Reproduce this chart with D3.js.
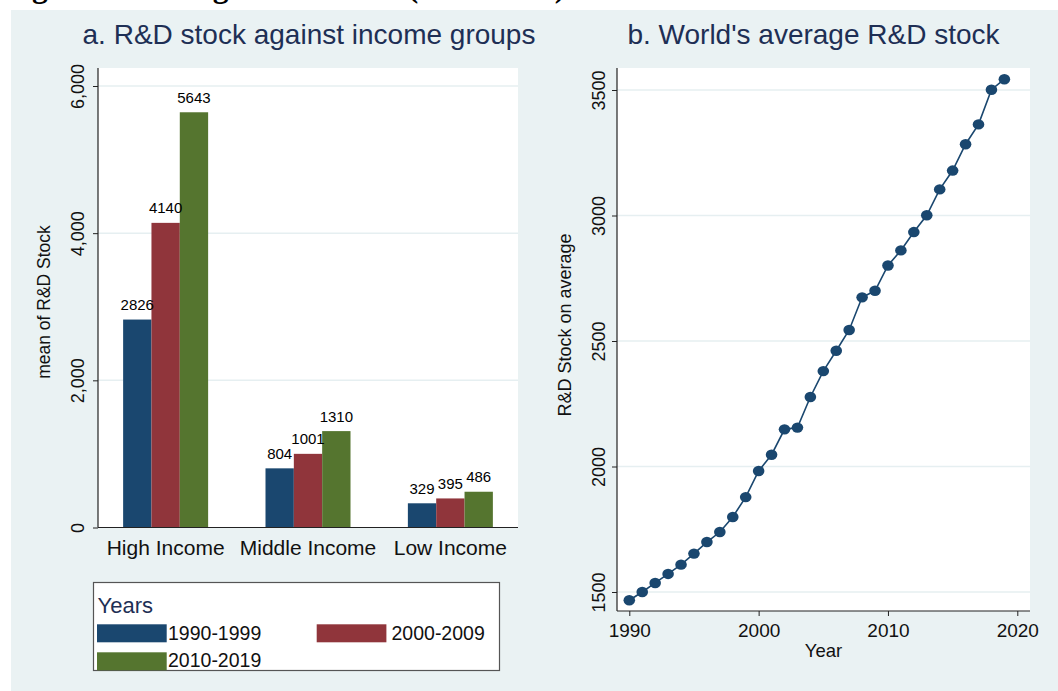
<!DOCTYPE html>
<html>
<head>
<meta charset="utf-8">
<script src="https://cdn.jsdelivr.net/npm/d3@7"></script>
<style>
  html, body { margin: 0; padding: 0; background: #ffffff; }
  svg { display: block; }
  text { font-family: "Liberation Sans", Arial, Helvetica, sans-serif; }
</style>
</head>
<body>
<svg id="chart" width="1058" height="691"></svg>
<script>
// ---- data ----
const incomeGroups = ["High Income", "Middle Income", "Low Income"];
const periods = ["1990-1999", "2000-2009", "2010-2019"];
const stock1990s = [2826, 804, 329];
const stock2000s = [4140, 1001, 395];
const stock2010s = [5643, 1310, 486];
const barTicks = [0, 2000, 4000, 6000];

const years = [1990, 1991, 1992, 1993, 1994, 1995, 1996, 1997, 1998, 1999,
               2000, 2001, 2002, 2003, 2004, 2005, 2006, 2007, 2008, 2009,
               2010, 2011, 2012, 2013, 2014, 2015, 2016, 2017, 2018, 2019];
const worldAvgStock = [1467, 1500, 1536, 1572, 1609, 1653, 1699, 1739, 1799, 1878,
                       1982, 2047, 2148, 2155, 2277, 2380, 2461, 2544, 2674, 2700,
                       2801, 2861, 2934, 3001, 3104, 3179, 3284, 3363, 3501, 3543];
const yearTicks = [1990, 2000, 2010, 2020];
const avgTicks = [1500, 2000, 2500, 3000, 3500];

// ---- styling ----
const periodColors = ["#1a476f", "#90353b", "#55752f"];
const navy = "#1a476f";
const titleColor = "#1e2f55";
const panelBg = "#eaf2f3";
const gridColor = "#e6eff1";
const axisColor = "#222222";

const svg = d3.select("#chart");

// document caption line, clipped by the graph panel below it
svg.append("text")
  .attr("x", 4).attr("y", -3)
  .style("font-family", "'Liberation Serif', 'Times New Roman', serif")
  .style("font-weight", "bold")
  .style("font-size", "31.5px")
  .attr("fill", "#000")
  .text("Figure 1: Average R&D stock (1990-2019)");

// graph panel background
svg.append("rect")
  .attr("x", 11).attr("y", 10)
  .attr("width", 1058 - 11).attr("height", 691 - 10)
  .attr("fill", panelBg);

// helper: rotated left-axis tick labels
function styleLeftAxis(g, offset) {
  g.select(".domain").remove();
  g.selectAll(".tick line").attr("stroke", axisColor).attr("stroke-width", 1);
  g.selectAll(".tick text")
    .attr("x", 0).attr("dy", 0)
    .attr("y", -offset)
    .attr("text-anchor", "middle")
    .attr("transform", "rotate(-90)")
    .attr("fill", "#111")
    .style("font-size", "18px")
    .style("font-family", "'Liberation Sans', Arial, sans-serif");
}

// =========== a. bar chart ===========
const A = { left: 98, right: 518, top: 68, bottom: 527.5 };

svg.append("rect")
  .attr("x", A.left).attr("y", A.top)
  .attr("width", A.right - A.left).attr("height", A.bottom - A.top)
  .attr("fill", "#ffffff");

svg.append("text")
  .attr("x", 309).attr("y", 44)
  .attr("text-anchor", "middle")
  .attr("fill", titleColor)
  .style("font-size", "28px")
  .text("a. R&D stock against income groups");

const xGroup = d3.scalePoint().domain(incomeGroups).range([A.left, A.right]).padding(0.475);
const xPeriod = d3.scaleBand().domain(periods).range([-42.5, 42.5]);
const yBar = d3.scaleLinear().domain([0, 6000]).range([A.bottom, 86]);

// gridlines
svg.append("g").selectAll("line")
  .data(barTicks.filter(t => t > 0))
  .join("line")
  .attr("x1", A.left).attr("x2", A.right)
  .attr("y1", d => yBar(d)).attr("y2", d => yBar(d))
  .attr("stroke", gridColor).attr("stroke-width", 1.5);

const barSeries = [stock1990s, stock2000s, stock2010s];
const barRows = [];
incomeGroups.forEach((grp, gi) => {
  periods.forEach((p, pi) => {
    barRows.push({ group: grp, period: p, value: barSeries[pi][gi], color: periodColors[pi] });
  });
});

const barG = svg.append("g");
barG.selectAll("rect")
  .data(barRows)
  .join("rect")
  .attr("x", d => xGroup(d.group) + xPeriod(d.period))
  .attr("y", d => yBar(d.value))
  .attr("width", xPeriod.bandwidth())
  .attr("height", d => yBar(0) - yBar(d.value))
  .attr("fill", d => d.color);

barG.selectAll("text")
  .data(barRows)
  .join("text")
  .attr("x", d => xGroup(d.group) + xPeriod(d.period) + xPeriod.bandwidth() / 2)
  .attr("y", d => yBar(d.value) - 9.5)
  .attr("text-anchor", "middle")
  .attr("fill", "#000")
  .style("font-size", "15px")
  .text(d => d.value);

// axes
const yAxisA = svg.append("g")
  .attr("transform", `translate(${A.left},0)`)
  .call(d3.axisLeft(yBar).tickValues(barTicks).tickFormat(d3.format(",")).tickSize(5).tickSizeOuter(0));
styleLeftAxis(yAxisA, 14);

svg.append("line")
  .attr("x1", A.left).attr("x2", A.left).attr("y1", A.top).attr("y2", A.bottom)
  .attr("stroke", axisColor).attr("stroke-width", 1.2);
svg.append("line")
  .attr("x1", A.left).attr("x2", A.right).attr("y1", A.bottom).attr("y2", A.bottom)
  .attr("stroke", axisColor).attr("stroke-width", 1.2);

svg.append("g").selectAll("text")
  .data(incomeGroups)
  .join("text")
  .attr("x", d => xGroup(d))
  .attr("y", A.bottom + 27.5)
  .attr("text-anchor", "middle")
  .attr("fill", "#111")
  .style("font-size", "21px")
  .text(d => d);

svg.append("text")
  .attr("transform", `translate(50,302) rotate(-90)`)
  .attr("text-anchor", "middle")
  .attr("fill", "#111")
  .style("font-size", "17.5px")
  .text("mean of R&D Stock");

// legend
const legend = svg.append("g");
legend.append("rect")
  .attr("x", 93.5).attr("y", 582.5)
  .attr("width", 406).attr("height", 88)
  .attr("fill", "#ffffff")
  .attr("stroke", "#555").attr("stroke-width", 1.2);
legend.append("text")
  .attr("x", 97.5).attr("y", 613)
  .attr("fill", titleColor)
  .style("font-size", "22px")
  .text("Years");
const legendPos = [
  { kx: 97, ky: 624.3, tx: 168, ty: 639.5 },
  { kx: 316.7, ky: 624.3, tx: 391.5, ty: 639.5 },
  { kx: 97, ky: 652.3, tx: 168, ty: 667 }
];
periods.forEach((p, i) => {
  const pos = legendPos[i];
  legend.append("rect")
    .attr("x", pos.kx).attr("y", pos.ky)
    .attr("width", 69.7).attr("height", 18)
    .attr("fill", periodColors[i]);
  legend.append("text")
    .attr("x", pos.tx).attr("y", pos.ty)
    .attr("fill", "#111")
    .style("font-size", "19.5px")
    .text(p);
});

// =========== b. line chart ===========
const B = { left: 617, right: 1030, top: 68, bottom: 611 };

svg.append("rect")
  .attr("x", B.left).attr("y", B.top)
  .attr("width", B.right - B.left).attr("height", B.bottom - B.top)
  .attr("fill", "#ffffff");

svg.append("text")
  .attr("x", 813.5).attr("y", 44)
  .attr("text-anchor", "middle")
  .attr("fill", titleColor)
  .style("font-size", "28px")
  .text("b. World's average R&D stock");

const xYear = d3.scaleLinear().domain([1990, 2020]).range([629.3, 1017.3]);
const yAvg = d3.scaleLinear().domain([1500, 3500]).range([592, 90]);

svg.append("g").selectAll("line")
  .data(avgTicks)
  .join("line")
  .attr("x1", B.left).attr("x2", B.right)
  .attr("y1", d => yAvg(d)).attr("y2", d => yAvg(d))
  .attr("stroke", gridColor).attr("stroke-width", 1.5);

const yAxisB = svg.append("g")
  .attr("transform", `translate(${B.left},0)`)
  .call(d3.axisLeft(yAvg).tickValues(avgTicks).tickFormat(d3.format("d")).tickSize(5).tickSizeOuter(0));
styleLeftAxis(yAxisB, 12.5);

const xAxisB = svg.append("g")
  .attr("transform", `translate(0,${B.bottom})`)
  .call(d3.axisBottom(xYear).tickValues(yearTicks).tickFormat(d3.format("d")).tickSize(5).tickSizeOuter(0));
xAxisB.select(".domain").remove();
xAxisB.selectAll(".tick line").attr("stroke", axisColor);
xAxisB.selectAll(".tick text")
  .attr("y", 26).attr("dy", 0)
  .attr("fill", "#111")
  .style("font-size", "19px")
  .style("font-family", "'Liberation Sans', Arial, sans-serif");

svg.append("line")
  .attr("x1", B.left).attr("x2", B.left).attr("y1", B.top).attr("y2", B.bottom)
  .attr("stroke", axisColor).attr("stroke-width", 1.2);
svg.append("line")
  .attr("x1", B.left).attr("x2", B.right).attr("y1", B.bottom).attr("y2", B.bottom)
  .attr("stroke", axisColor).attr("stroke-width", 1.2);

svg.append("text")
  .attr("x", (B.left + B.right) / 2).attr("y", 657)
  .attr("text-anchor", "middle")
  .attr("fill", "#111")
  .style("font-size", "18.5px")
  .text("Year");

svg.append("text")
  .attr("transform", `translate(571,325) rotate(-90)`)
  .attr("text-anchor", "middle")
  .attr("fill", "#111")
  .style("font-size", "18px")
  .text("R&D Stock on average");

const points = years.map((yr, i) => ({ year: yr, value: worldAvgStock[i] }));

svg.append("path")
  .datum(points)
  .attr("fill", "none")
  .attr("stroke", navy)
  .attr("stroke-width", 1.6)
  .attr("d", d3.line().x(d => xYear(d.year)).y(d => yAvg(d.value)));

svg.append("g").selectAll("ellipse")
  .data(points)
  .join("ellipse")
  .attr("cx", d => xYear(d.year))
  .attr("cy", d => yAvg(d.value))
  .attr("rx", 5.8).attr("ry", 5.2)
  .attr("fill", navy);
</script>
</body>
</html>
